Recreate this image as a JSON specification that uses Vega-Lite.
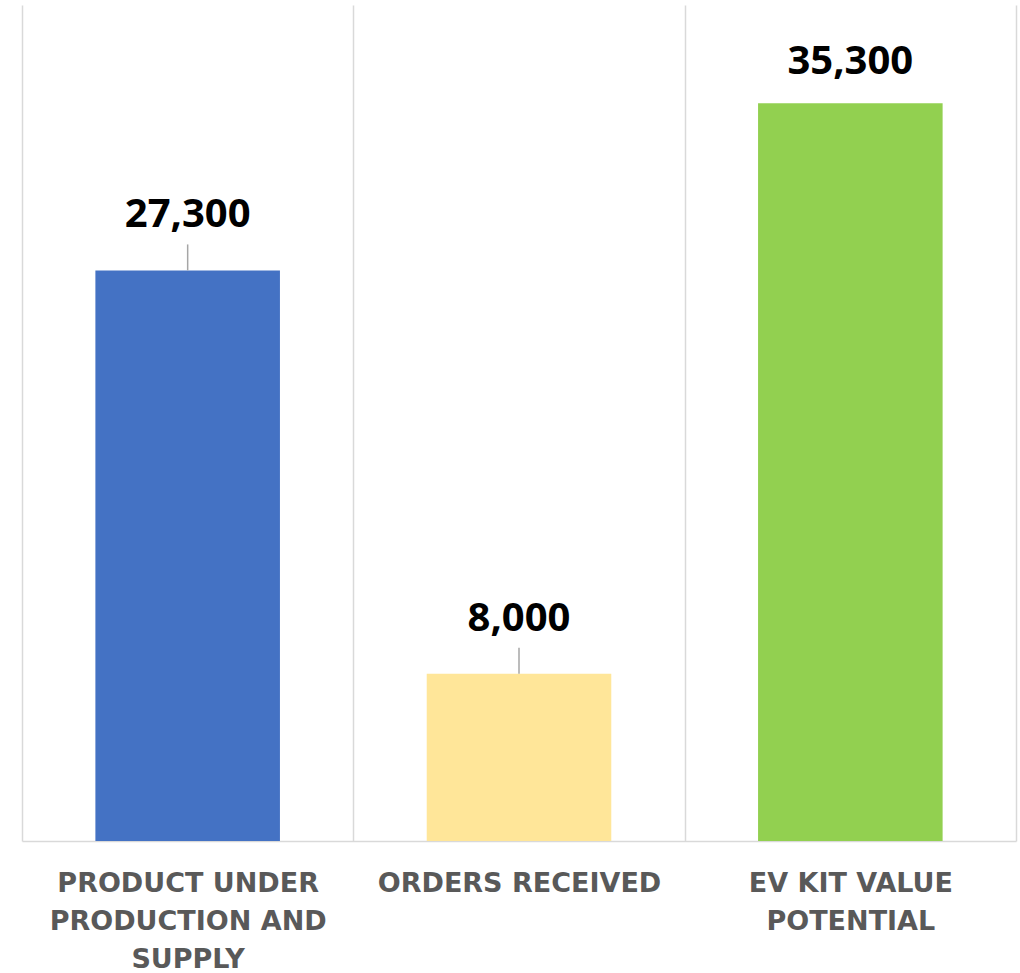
{
  "$schema": "https://vega.github.io/schema/vega-lite/v6.json",
  "autosize": {"type": "none"},
  "padding": {"left": 22, "top": 5, "right": 4, "bottom": 132},
  "width": 994,
  "height": 836,
  "background": "white",
  "config": {"view": {"stroke": null}},
  "data": {"values": [
    {"category": "PRODUCT UNDER PRODUCTION AND SUPPLY", "value": 27300, "leader": "yes"},
    {"category": "ORDERS RECEIVED", "value": 8000, "leader": "yes"},
    {"category": "EV KIT VALUE POTENTIAL", "value": 35300, "leader": "no"}
  ]},
  "encoding": {
    "x": {
      "field": "category", "type": "nominal", "sort": null,
      "scale": {"paddingInner": 0, "paddingOuter": 0},
      "axis": {
        "title": null, "grid": true, "gridColor": "#d9d9d9", "gridWidth": 1.5,
        "tickBand": "extent", "ticks": false,
        "domainColor": "#d9d9d9", "domainWidth": 1.5,
        "labelAngle": 0, "labelFont": "DejaVu Sans", "labelFontWeight": "bold",
        "labelFontSize": 27, "labelColor": "#595959", "labelPadding": 29,
        "labelLineHeight": 38, "labelBaseline": "top", "labelLimit": 400,
        "labelExpr": "datum.value == 'PRODUCT UNDER PRODUCTION AND SUPPLY' ? ['PRODUCT UNDER', 'PRODUCTION AND', 'SUPPLY'] : datum.value == 'EV KIT VALUE POTENTIAL' ? ['EV KIT VALUE', 'POTENTIAL'] : datum.label"
      }
    },
    "y": {"field": "value", "type": "quantitative", "scale": {"domain": [0, 40000]}, "axis": null}
  },
  "layer": [
    {
      "mark": {"type": "bar", "width": {"band": 0.557}},
      "encoding": {
        "color": {
          "field": "category", "type": "nominal", "legend": null,
          "scale": {
            "domain": ["PRODUCT UNDER PRODUCTION AND SUPPLY", "ORDERS RECEIVED", "EV KIT VALUE POTENTIAL"],
            "range": ["#4472C4", "#FFE699", "#92D050"]
          }
        }
      }
    },
    {
      "transform": [{"filter": "datum.leader == 'yes'"}],
      "mark": {"type": "rule", "color": "#a6a6a6", "strokeWidth": 1.5, "y2Offset": -26},
      "encoding": {"y2": {"field": "value"}}
    },
    {
      "transform": [{"filter": "datum.leader == 'yes'"}],
      "mark": {"type": "text", "font": "Open Sans", "fontWeight": "bold", "fontSize": 40, "baseline": "middle", "dy": -55, "color": "black"},
      "encoding": {"text": {"field": "value", "type": "quantitative", "format": ","}}
    },
    {
      "transform": [{"filter": "datum.leader == 'no'"}],
      "mark": {"type": "text", "font": "Open Sans", "fontWeight": "bold", "fontSize": 40, "baseline": "middle", "dy": -41, "color": "black"},
      "encoding": {"text": {"field": "value", "type": "quantitative", "format": ","}}
    }
  ]
}
